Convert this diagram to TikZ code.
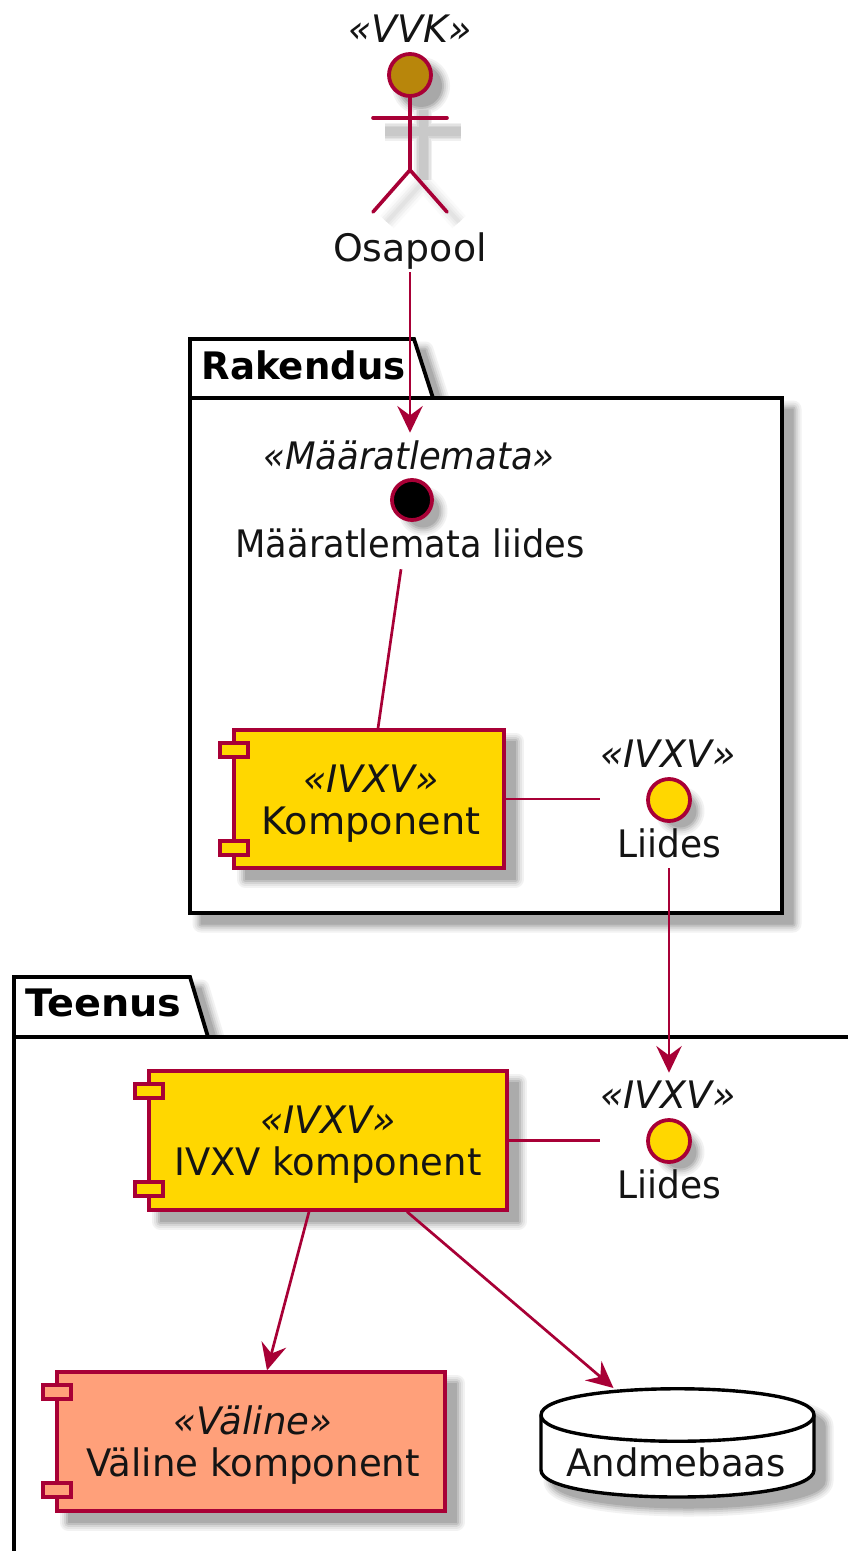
\documentclass[tikz,border=0pt]{standalone}
\usepackage{fontspec}
\usepackage{graphicx}
\setmainfont{DejaVu Sans}
\usetikzlibrary{arrows.meta,calc}
\definecolor{crim}{HTML}{A80036}
\definecolor{compgold}{HTML}{FFD700}
\definecolor{extsalmon}{HTML}{FFA07A}
\definecolor{headgold}{HTML}{B8860B}
\def\px{0.75pt}
\newcommand{\sx}[2]{\scalebox{#1}[1]{#2}}
\newcommand{\lowerblock}{\rule{0pt}{27pt}}
\newcommand{\softshadow}[1]{%
  \foreach \w/\c in {17/5,13/10,9/17,5/25,1/33}{%
    \path[shift={(11,11)},line join=round,draw=black!\c,fill=black!\c,line width=\w*\px] #1;}}
\tikzset{
  x=0.75pt,y=-0.75pt,
  txt/.style={font=\fontsize{28.4}{31.5}\selectfont,inner sep=0pt,align=center,text=black!92},
  stereo/.style={txt,font=\fontsize{28.4}{31.5}\selectfont\itshape,minimum height=44*\px},
  lbl/.style={txt,minimum height=48*\px},
  pkglabel/.style={txt,font=\fontsize{28.4}{31.5}\selectfont\bfseries,text=black},
  pkg/.style={draw=black,line width=3.8*\px,fill=white,line join=miter},
  comp/.style={txt,draw=crim,line width=3.4*\px,fill=#1,minimum height=138*\px},
  comptab/.style={draw=crim,line width=3.4*\px,fill=#1,inner sep=0pt,minimum width=28*\px,minimum height=14*\px},
  iface/.style={circle,draw=crim,line width=3.8*\px,fill=#1,inner sep=0pt,minimum size=42*\px},
  conn/.style={draw=crim,line width=2.7*\px},
  arr/.style={conn,-{Stealth[length=20pt,width=19pt,inset=7pt]}},
  limb/.style={draw=crim,line width=3.6*\px,line cap=round},
  dbline/.style={draw=black,line width=3.4*\px},
}
\begin{document}
\begin{tikzpicture}
\path[clip] (0,0) rectangle (848,1551);
\fill[white] (0,0) rectangle (848,1551);

% ---- package Rakendus
\softshadow{(190,339) -- (414,339) -- (433,398) -- (782,398) -- (782,913) -- (190,913) -- cycle}
\path[pkg] (190,339) -- (414,339) -- (433,398) -- (782,398) -- (782,913) -- (190,913) -- cycle;
\draw[black,line width=3.8*\px] (190,398) -- (433,398);
\node[pkglabel,anchor=center] (rakendus) at (303.5,365) {\sx{.98}{Rakendus}};

% ---- package Teenus
\softshadow{(14,977) -- (190,977) -- (208,1037) -- (900,1037) -- (900,1600) -- (14,1600) -- cycle}
\path[pkg] (14,977) -- (190,977) -- (208,1037) -- (900,1037) -- (900,1600) -- (14,1600) -- cycle;
\draw[black,line width=3.8*\px] (14,1037) -- (208,1037);
\node[pkglabel,anchor=center] (teenus) at (103.5,1003) {\sx{1.05}{Teenus}};

% ---- actor shadow
\foreach \c/\r in {5/29,10/27,17/25,26/23,34/21}{\fill[black!\c] (421,86) circle (\r);}
\foreach \w/\c in {18/2,13/5,8/8,4/11}{
  \draw[draw=black!\c,line width=\w*\px] (387,222) -- (423,182) -- (459,222);
}
\foreach \w/\c in {18/6,15/11,12/17,9/21}{
  \draw[draw=black!\c,line width=\w*\px] (385,132) -- (461,132);
  \draw[draw=black!\c,line width=\w*\px] (423,110) -- (423,180);
}
% ---- actor
\node[iface=headgold] (head) at (410,75) {};
\coordinate (hip) at (410,170);
\coordinate (armL) at (373,118);
\coordinate (armR) at (447,118);
\coordinate (legL) at (373,212);
\coordinate (legR) at (447,212);
\draw[limb] (head.south) -- (hip);
\draw[limb] (armL) -- (armR);
\draw[limb] (legL) -- (hip) -- (legR);
\node[stereo] (vvk) at (410,29) {«VVK»};
\node[lbl,minimum height=42*\px] (osapool) at (410,251) {Osapool};

% ---- Rakendus contents
\node[stereo] (mstereo) at (409,455) {\sx{.935}{«Määratlemata»}};
\softshadow{(412,500) circle (16)}
\node[iface=black,minimum size=40*\px] (mcircle) at (412,500) {};
\node[lbl,minimum height=52*\px] (mliides) at (410,543) {\sx{.93}{Määratlemata liides}};

\softshadow{(234,730) rectangle (504,868)}
\node[comp=compgold,minimum width=270*\px] (komp) at (369,799) {\lowerblock\textit{\hspace*{3pt}«IVXV»}\\\hspace*{3pt}\sx{1.01}{Komponent}};
\node[comptab=compgold] (komptab1) at (234,750) {};
\node[comptab=compgold] (komptab2) at (234,848) {};

\node[stereo] (l1stereo) at (668,754) {«IVXV»};
\softshadow{(669,800) circle (16)}
\node[iface=compgold] (l1circle) at (669,800) {};
\node[lbl,minimum height=50*\px] (l1label) at (669,843) {\sx{.95}{Liides}};

% ---- Teenus contents
\softshadow{(149,1071) rectangle (507,1210)}
\node[comp=compgold,minimum width=358*\px,minimum height=139*\px] (ivxv) at (328,1140.5) {\lowerblock\textit{«IVXV»}\\\sx{.975}{IVXV komponent}};
\node[comptab=compgold] (ivxvtab1) at (149,1091) {};
\node[comptab=compgold] (ivxvtab2) at (149,1189) {};

\node[stereo] (l2stereo) at (668,1095) {«IVXV»};
\softshadow{(669,1141) circle (16)}
\node[iface=compgold] (l2circle) at (669,1141) {};
\node[lbl] (l2label) at (669,1184) {\sx{.95}{Liides}};

\softshadow{(57,1372) rectangle (445,1511)}
\node[comp=extsalmon,minimum width=388*\px,minimum height=139*\px] (valine) at (251,1441.5) {\lowerblock\textit{\hspace*{3pt}\sx{.98}{«Väline»}}\\\hspace*{3pt}\sx{.98}{Väline komponent}};
\node[comptab=extsalmon] (valinetab1) at (57,1392) {};
\node[comptab=extsalmon] (valinetab2) at (57,1490) {};

% ---- database
\softshadow{(541,1415) .. controls (541,1380) and (814,1380) .. (814,1415) -- (814,1470) .. controls (814,1506) and (541,1506) .. (541,1470) -- cycle}
\path[dbline,fill=white] (541,1415) .. controls (541,1380) and (814,1380) .. (814,1415) -- (814,1470) .. controls (814,1506) and (541,1506) .. (541,1470) -- cycle;
\draw[dbline] (541,1415) .. controls (541,1450) and (814,1450) .. (814,1415);
\node[txt,minimum width=273*\px,minimum height=109*\px,anchor=north] (db) at (677.5,1388) {};
\node[txt] (andmebaas) at (676,1462) {\sx{.98}{Andmebaas}};

% ---- connectors
\draw[arr] (osapool.south) -- (osapool.south |- mstereo.north);
\draw[conn] ($(mliides.south)+(-9,0)$) -- ($(komp.north)+(9,0)$);
\draw[conn] (komp.east) -- (komp.east -| l1stereo.west);
\draw[arr] (l1label.south) -- (l1label.south |- l2stereo.north);
\draw[conn] (ivxv.east) -- (ivxv.east -| l2stereo.west);
\draw[arr] ($(ivxv.south)+(-19,0)$) -- ($(valine.north)+(16,0)$);
\draw[arr] ($(ivxv.south)+(79,0)$) -- ($(db.north)+(-64,0)$);
\end{tikzpicture}
\end{document}
